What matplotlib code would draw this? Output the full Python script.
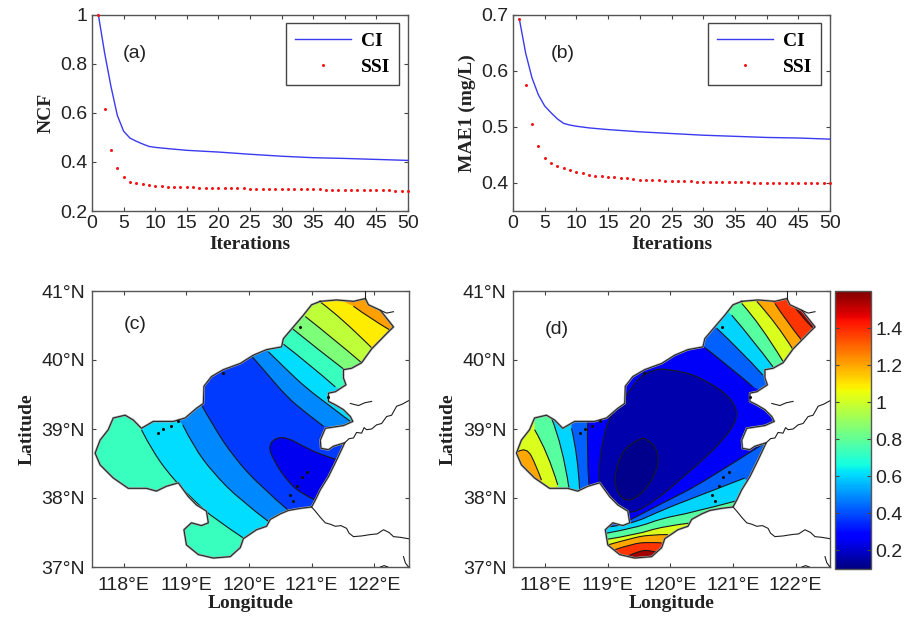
import matplotlib
matplotlib.use("Agg")
import matplotlib.pyplot as plt
import numpy as np
from matplotlib.cm import ScalarMappable
from matplotlib.colors import Normalize
from matplotlib.patches import PathPatch, Polygon
from matplotlib.path import Path

plt.rcParams['font.family'] = ['Liberation Sans', 'DejaVu Sans']

W, H = 909, 623
SERIF = 'Liberation Serif'

## convergence curves
CI_ITER = [1, 2, 3, 4, 5, 6, 7, 8, 9, 10, 12, 15, 20, 25, 30, 35, 40, 45, 50]
NCF_CI = [1.0, 0.843, 0.707, 0.59, 0.525, 0.497, 0.484, 0.473, 0.463, 0.459, 0.454, 0.447,
          0.44, 0.431, 0.423, 0.417, 0.414, 0.41, 0.406]
MAE_CI = [0.692, 0.631, 0.587, 0.557, 0.537, 0.525, 0.514, 0.506, 0.503, 0.501, 0.498, 0.495,
          0.491, 0.488, 0.485, 0.483, 0.481, 0.48, 0.478]
SSI_ITER = list(range(1, 51))
NCF_SSI = [1.0, 0.615, 0.45, 0.375, 0.337, 0.32, 0.312, 0.308, 0.305, 0.302,
           0.3, 0.299, 0.298, 0.297, 0.296, 0.296, 0.295, 0.295, 0.294, 0.294,
           0.293, 0.293, 0.292, 0.292, 0.291, 0.291, 0.291, 0.29, 0.29, 0.29,
           0.289, 0.289, 0.288, 0.288, 0.288, 0.288, 0.287, 0.287, 0.287, 0.286,
           0.286, 0.286, 0.285, 0.285, 0.285, 0.284, 0.284, 0.283, 0.283, 0.282]
MAE_SSI = [0.692, 0.574, 0.505, 0.465, 0.445, 0.436, 0.431, 0.426, 0.423, 0.42,
           0.418, 0.415, 0.413, 0.412, 0.411, 0.41, 0.409, 0.408, 0.407, 0.406,
           0.406, 0.405, 0.405, 0.404, 0.404, 0.403, 0.403, 0.403, 0.402, 0.402,
           0.402, 0.402, 0.401, 0.401, 0.401, 0.401, 0.401, 0.4, 0.4, 0.4,
           0.4, 0.4, 0.4, 0.4, 0.4, 0.399, 0.399, 0.399, 0.399, 0.399]

## coast of the sea, lon/lat, clockwise from the north end
SEA = [(121.14, 40.85), (121.40, 40.87), (121.67, 40.85), (121.86, 40.89), (121.91, 40.80),
       (122.10, 40.72), (122.31, 40.48), (122.23, 40.41), (121.96, 40.16), (121.80, 39.96),
       (121.64, 39.88), (121.51, 39.86), (121.51, 39.74), (121.55, 39.64), (121.38, 39.54),
       (121.27, 39.52), (121.27, 39.40), (121.38, 39.35), (121.51, 39.28), (121.62, 39.18),
       (121.66, 39.11), (121.51, 39.05), (121.22, 39.01), (121.14, 38.84), (121.15, 38.72),
       (121.27, 38.70), (121.35, 38.75), (121.53, 38.80), (121.40, 38.55), (121.27, 38.31),
       (121.14, 38.12), (121.06, 37.97), (121.00, 37.87), (120.82, 37.85), (120.63, 37.82),
       (120.50, 37.77), (120.34, 37.69), (120.28, 37.59), (120.12, 37.54), (119.91, 37.41),
       (119.86, 37.28), (119.70, 37.15), (119.43, 37.13), (119.19, 37.18), (119.00, 37.32),
       (118.96, 37.54), (119.08, 37.64), (119.24, 37.60), (119.35, 37.64), (119.32, 37.81),
       (119.16, 37.90), (119.03, 38.02), (118.87, 38.22), (118.68, 38.17), (118.52, 38.10),
       (118.36, 38.14), (118.07, 38.14), (117.83, 38.29), (117.62, 38.48), (117.54, 38.65),
       (117.62, 38.84), (117.75, 38.99), (117.83, 39.16), (118.02, 39.20), (118.15, 39.13),
       (118.28, 39.01), (118.47, 39.11), (118.79, 39.11), (118.98, 39.16), (119.16, 39.30),
       (119.27, 39.37), (119.28, 39.62), (119.40, 39.76), (119.59, 39.86), (119.86, 39.95),
       (120.07, 40.07), (120.28, 40.15), (120.52, 40.19), (120.55, 40.31), (120.71, 40.48),
       (120.87, 40.65), (121.00, 40.80), (121.14, 40.85)]

## land coast outside the sea
LAND_LINES = [
  [(121.00, 37.87), (121.06, 37.81), (121.14, 37.72), (121.22, 37.64), (121.30, 37.62),
   (121.38, 37.59), (121.47, 37.60), (121.56, 37.56), (121.60, 37.49), (121.67, 37.44),
   (121.80, 37.45), (121.94, 37.47), (122.05, 37.48), (122.15, 37.54), (122.24, 37.50),
   (122.31, 37.44), (122.42, 37.43), (122.55, 37.41)],
  [(121.53, 38.80), (121.60, 38.86), (121.67, 38.87), (121.72, 38.95), (121.80, 38.94),
   (121.84, 39.02), (121.88, 38.99), (121.96, 39.00), (122.04, 39.06), (122.12, 39.08),
   (122.20, 39.18), (122.28, 39.20), (122.36, 39.33), (122.45, 39.36), (122.55, 39.41)],
  [(121.62, 39.37), (121.75, 39.34), (121.85, 39.38), (121.96, 39.40)],
  [(121.86, 41.0), (121.86, 40.89)],
  [(122.10, 40.72), (122.20, 40.68), (122.31, 40.70)],
  [(122.47, 37.15), (122.50, 37.06), (122.55, 37.0)],
  [(122.10, 37.0), (122.16, 37.02), (122.22, 37.0)],
]
ISLAND_LON = [118.55, 118.63, 118.75, 118.87, 119.58, 120.82, 120.84, 120.93, 120.77, 120.71, 120.66, 121.27]
ISLAND_LAT = [38.94, 39.00, 39.04, 39.12, 39.81, 40.48, 38.31, 38.38, 38.17, 37.95, 38.05, 39.47]

## panel c contours, low side to high side
C_BASE = 0.37
C_NE_LINES = [
  [(120.04, 40.06), (120.28, 39.81), (120.60, 39.47), (120.90, 39.24), (121.19, 39.04)],
  [(120.31, 40.12), (120.60, 39.86), (120.92, 39.59), (121.27, 39.35), (121.62, 39.11)],
  [(120.55, 40.23), (120.98, 39.93), (121.38, 39.61)],
  [(120.70, 40.45), (121.08, 40.17), (121.51, 39.87)],
  [(120.90, 40.63), (121.35, 40.31), (121.80, 39.96)],
  [(121.14, 40.84), (121.46, 40.63), (121.98, 40.16)],
  [(121.67, 40.78), (121.94, 40.60), (122.26, 40.43)],
]
C_NE_VALUES = [0.49, 0.61, 0.73, 0.85, 0.97, 1.09, 1.21]
C_W_LINES = [
  [(119.24, 39.35), (119.43, 39.04), (119.75, 38.60), (120.18, 38.17), (120.63, 37.82)],
  [(118.94, 39.06), (119.11, 38.75), (119.43, 38.36), (119.86, 37.97), (120.31, 37.66)],
  [(118.28, 38.99), (118.47, 38.65), (118.84, 38.22), (119.16, 37.93), (119.43, 37.71), (119.91, 37.42)],
]
C_W_VALUES = [0.49, 0.61, 0.73]
C_LOW_LINE = [(121.39, 38.56), (121.14, 38.63), (120.87, 38.75), (120.60, 38.88), (120.42, 38.87),
              (120.31, 38.75), (120.39, 38.55), (120.60, 38.26), (120.82, 38.07), (121.06, 37.97)]
C_LOW_VALUE = 0.25

## panel d contours
D_BASE = 0.26
D_NE_LINES = [
  [(120.55, 40.18), (120.95, 39.90), (121.32, 39.61)],
  [(120.74, 40.46), (121.11, 40.15), (121.48, 39.78)],
  [(120.98, 40.65), (121.32, 40.29), (121.64, 39.90)],
  [(121.14, 40.82), (121.43, 40.53), (121.80, 39.98)],
  [(121.38, 40.85), (121.70, 40.53), (121.96, 40.15)],
  [(121.67, 40.82), (121.80, 40.63), (122.11, 40.27)],
  [(121.88, 40.89), (122.07, 40.65), (122.28, 40.46)],
]
D_NE_VALUES = [0.43, 0.6, 0.78, 1.02, 1.2, 1.38, 1.55]
D_W_LINES = [
  [(118.68, 39.11), (118.66, 38.65), (118.70, 38.17)],
  [(118.42, 39.01), (118.52, 38.63), (118.55, 38.12)],
  [(118.10, 39.16), (118.28, 38.75), (118.38, 38.14)],
  [(117.83, 38.99), (118.04, 38.67), (118.20, 38.19)],
  [(117.56, 38.67), (117.70, 38.75), (117.86, 38.46), (117.94, 38.26)],
]
D_W_VALUES = [0.43, 0.6, 0.78, 1.02, 1.2]
D_S_LINES = [
  [(119.35, 37.68), (119.88, 37.93), (120.52, 38.22), (121.51, 38.80)],
  [(118.99, 37.58), (119.35, 37.61), (119.88, 37.83), (120.42, 38.02), (121.19, 38.29)],
  [(118.98, 37.49), (119.46, 37.57), (119.88, 37.71), (120.31, 37.78), (121.06, 37.96)],
  [(118.98, 37.40), (119.46, 37.47), (119.88, 37.59), (120.34, 37.64)],
  [(119.00, 37.32), (119.35, 37.41), (119.67, 37.47), (119.96, 37.47)],
  [(119.11, 37.25), (119.40, 37.34), (119.67, 37.36), (119.86, 37.35)],
  [(119.30, 37.15), (119.51, 37.24), (119.70, 37.24), (119.83, 37.20)],
]
D_S_VALUES = [0.43, 0.6, 0.78, 1.02, 1.2, 1.38, 1.55]
D_NAVY = [(119.84, 39.87), (120.22, 39.84), (120.59, 39.69), (120.91, 39.50), (121.07, 39.28),
          (121.04, 39.09), (120.85, 38.85), (120.53, 38.56), (120.16, 38.27), (119.79, 37.98),
          (119.38, 37.76), (119.19, 37.86), (119.03, 37.99), (118.87, 38.16), (118.86, 38.43),
          (118.90, 38.77), (119.03, 39.20), (119.30, 39.49), (119.56, 39.83), (119.84, 39.87)]
D_NAVY_VALUE = 0.16
D_INNER = [(119.56, 38.87), (119.72, 38.81), (119.82, 38.60), (119.77, 38.36), (119.56, 38.07),
           (119.32, 37.94), (119.16, 38.05), (119.10, 38.29), (119.19, 38.60), (119.35, 38.79),
           (119.56, 38.87)]
D_INNER_VALUE = 0.12

## closing vertices for the bands, all on land
NE_CLOSE = [(123, 38.95), (123, 41.5), (120, 41.5)]
C_W_CLOSE = [(120.6, 36.8), (117.3, 36.8), (117.3, 39.6), (118.4, 39.6)]
C_LOW_CLOSE = [(121.8, 37.97), (121.8, 38.56)]
S_CLOSE = [(122, 36.8), (118.8, 36.8)]

LON_TICKS = [118, 119, 120, 121, 122]
LAT_TICKS = [37, 38, 39, 40, 41]
CBAR_TICKS = [0.2, 0.4, 0.6, 0.8, 1.0, 1.2, 1.4]
CBAR_LABELS = ['0.2', '0.4', '0.6', '0.8', '1', '1.2', '1.4']

norm = Normalize(0.1, 1.6)
cmap = plt.get_cmap('jet')


def new_axes(fig, x0, y0, x1, y1):
  # pixel box with y from the top of the image
  ax = fig.add_axes([x0 / W, 1 - y1 / H, (x1 - x0) / W, (y1 - y0) / H])
  for s in ax.spines.values():
    s.set_color('#555555')
    s.set_linewidth(1.0)
  ax.tick_params(direction='in', length=3, width=0.8, color='#444444', top=True, right=True,
                 labelsize=14, labelcolor='#222222', pad=3)
  return ax


def curve_path(pts, close_pts=None):
  # quadratic segments through the midpoints, so contours are not angular
  pts = np.asarray(pts, dtype=float)
  verts = [pts[0]]
  codes = [Path.MOVETO]
  for i in range(1, len(pts) - 1):
    end = pts[i + 1] if i == len(pts) - 2 else (pts[i] + pts[i + 1]) / 2
    verts += [pts[i], end]
    codes += [Path.CURVE3, Path.CURVE3]
  if len(pts) == 2:
    verts.append(pts[1])
    codes.append(Path.LINETO)
  if close_pts is not None:
    for p in close_pts:
      verts.append(p)
      codes.append(Path.LINETO)
    verts.append(pts[0])
    codes.append(Path.CLOSEPOLY)
  return Path(verts, codes)


def add_band(ax, sea, line, close_pts, value):
  fill = PathPatch(curve_path(line, close_pts), facecolor=cmap(norm(value)), edgecolor='none', zorder=2)
  ax.add_patch(fill)
  fill.set_clip_path(sea)
  edge = PathPatch(curve_path(line), fill=False, edgecolor='#1a1a1a', linewidth=0.8, zorder=3)
  ax.add_patch(edge)
  edge.set_clip_path(sea)


def map_axes(fig, box, base, label, label_y):
  ax = new_axes(fig, *box)
  ax.set_xlim(117.49, 122.55)
  ax.set_ylim(37, 41)
  ax.set_xticks(LON_TICKS)
  ax.set_xticklabels([f'{t}°E' for t in LON_TICKS])
  ax.set_yticks(LAT_TICKS)
  ax.set_yticklabels([f'{t}°N' for t in LAT_TICKS])
  ax.tick_params(axis='x', pad=7)
  ax.tick_params(axis='y', pad=5)
  ax.set_xlabel('Longitude', family=SERIF, fontweight='bold', fontsize=14, labelpad=1, color='#222222')
  ax.set_ylabel('Latitude', family=SERIF, fontweight='bold', fontsize=14, labelpad=4, color='#222222')
  ax.text(0.136, label_y, label, transform=ax.transAxes, ha='center', va='center', fontsize=14, color='#222222')
  sea = Polygon(SEA, closed=True, facecolor=cmap(norm(base)), edgecolor='none', zorder=1)
  ax.add_patch(sea)
  return ax, sea


def finish_map(ax):
  ax.plot(*zip(*SEA), color='#a0a0a0', lw=1.6, zorder=4, solid_joinstyle='round')
  ax.plot(*zip(*SEA), color='#202020', lw=0.7, zorder=5)
  for line in LAND_LINES:
    ax.plot(*zip(*line), color='#202020', lw=0.8, zorder=5)
  ax.scatter(ISLAND_LON, ISLAND_LAT, s=5, color='#101010', linewidths=0, zorder=6)


def curve_axes(fig, box, ci, ssi, ylim, yticks, ylabels, ylabel, tag, tag_x):
  ax = new_axes(fig, *box)
  ax.plot(CI_ITER, ci, color='#3a3af0', lw=1.0, label='CI', clip_on=False, zorder=3)
  ax.plot(SSI_ITER, ssi, ls='none', marker='o', ms=2.2, mew=0, color='#f01818', label='SSI', clip_on=False, zorder=3)
  ax.set_xlim(0, 50)
  ax.set_ylim(*ylim)
  ax.set_xticks(range(0, 51, 5))
  ax.set_yticks(yticks)
  ax.set_yticklabels(ylabels)
  ax.set_xlabel('Iterations', family=SERIF, fontweight='bold', fontsize=14, labelpad=3, color='#222222')
  ax.set_ylabel(ylabel, family=SERIF, fontweight='bold', fontsize=14, labelpad=4, color='#222222')
  ax.text(tag_x, 0.804, tag, transform=ax.transAxes, ha='center', va='center', fontsize=14, color='#222222')
  leg = ax.legend(loc='upper right', bbox_to_anchor=(0.972, 0.955), borderaxespad=0, fancybox=False,
                  framealpha=1, edgecolor='#444444', handlelength=2.9, handletextpad=0.5,
                  labelspacing=0.45, borderpad=0.45,
                  prop={'family': SERIF, 'weight': 'bold', 'size': 14})
  leg.get_frame().set_linewidth(1.0)
  return ax


fig = plt.figure(figsize=(W / 100, H / 100), dpi=100)

curve_axes(fig, (92, 14.5, 408, 211), NCF_CI, NCF_SSI, (0.2, 1.0), [0.2, 0.4, 0.6, 0.8, 1.0],
           ['0.2', '0.4', '0.6', '0.8', '1'], 'NCF', '(a)', 0.136)
curve_axes(fig, (513, 14.5, 830, 211), MAE_CI, MAE_SSI, (0.35, 0.7), [0.4, 0.5, 0.6, 0.7],
           ['0.4', '0.5', '0.6', '0.7'], 'MAE1 (mg/L)', '(b)', 0.158)

## (c)
ax, sea = map_axes(fig, (92, 291, 408.5, 567), C_BASE, '(c)', 0.88)
for line, v in zip(C_NE_LINES, C_NE_VALUES):
  add_band(ax, sea, line, NE_CLOSE, v)
for line, v in zip(C_W_LINES, C_W_VALUES):
  add_band(ax, sea, line, C_W_CLOSE, v)
add_band(ax, sea, C_LOW_LINE, C_LOW_CLOSE, C_LOW_VALUE)
finish_map(ax)

## (d)
ax, sea = map_axes(fig, (513.3, 291, 830, 567), D_BASE, '(d)', 0.859)
for line, v in zip(D_NE_LINES, D_NE_VALUES):
  add_band(ax, sea, line, NE_CLOSE, v)
for line, v in zip(D_W_LINES, D_W_VALUES):
  close_pts = [(line[-1][0], 37.9), (117.3, 37.9), (117.3, 39.6), (line[0][0], 39.6)]
  add_band(ax, sea, line, close_pts, v)
for line, v in zip(D_S_LINES, D_S_VALUES):
  add_band(ax, sea, line, S_CLOSE + [(118.8, line[0][1])], v)
add_band(ax, sea, D_NAVY, [], D_NAVY_VALUE)
add_band(ax, sea, D_INNER, [], D_INNER_VALUE)
finish_map(ax)

## colorbar
cax = new_axes(fig, 835, 291, 871, 569)
cb = fig.colorbar(ScalarMappable(norm=norm, cmap=cmap), cax=cax, ticks=CBAR_TICKS)
cb.ax.set_yticklabels(CBAR_LABELS)
cb.ax.tick_params(direction='in', length=3, width=0.8, color='#444444', left=True, right=True,
                  labelsize=14, labelcolor='#222222', pad=3)
cb.outline.set_edgecolor('#555555')
cb.outline.set_linewidth(1.0)

fig.savefig('out.png', dpi=100)
